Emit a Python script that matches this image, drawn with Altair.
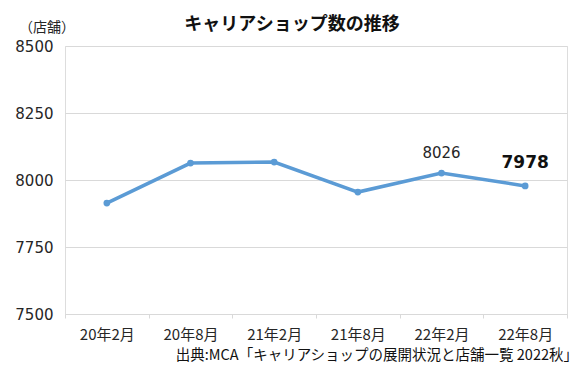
import altair as alt
import pandas as pd

months = ["20年2月", "20年8月", "21年2月", "21年8月", "22年2月", "22年8月"]
shops = [7914, 8063, 8067, 7955, 8026, 7978]
label_months = ["22年2月", "22年8月"]
label_values = [8026, 7978]
label_bold = ["normal", "bold"]
y_ticks = [7500, 7750, 8000, 8250, 8500]

title_text = "キャリアショップ数の推移"
unit_text = "（店舗）"
source_text = "出典:MCA「キャリアショップの展開状況と店舗一覧 2022秋」"

df = pd.DataFrame({"month": months, "shops": shops})
lab = pd.DataFrame({"month": label_months, "shops": label_values, "w": label_bold})

JP = "Noto Sans CJK JP"
NUM = "DejaVu Sans"
BLUE = "#5B9BD5"

x = alt.X("month:N", sort=months, title=None,
          scale=alt.Scale(type="band", paddingInner=0, paddingOuter=0),
          axis=alt.Axis(labelAngle=0, labelFont=JP, labelFontSize=15, labelColor="#262626",
                        labelPadding=9, tickBand="extent", tickSize=4, tickColor="#D9D9D9",
                        domainColor="#D9D9D9", grid=False))
y = alt.Y("shops:Q", title=None,
          scale=alt.Scale(domain=[7500, 8500], nice=False, zero=False),
          axis=alt.Axis(values=y_ticks, format="d", labelFont=NUM, labelFontSize=15, labelColor="#262626",
                        labelPadding=12, ticks=False, domain=False, gridColor="#D9D9D9"))

base = alt.Chart(df)
line = base.mark_line(color=BLUE, strokeWidth=3.5).encode(x=x, y=y)
pts = base.mark_point(color=BLUE, filled=True, opacity=1, size=45).encode(x=x, y=y)

lab1 = alt.Chart(lab[lab.w == "normal"]).mark_text(font=NUM, fontSize=15, dy=-20, color="#262626").encode(
    x=alt.X("month:N", sort=months), y="shops:Q", text="shops:Q")
lab2 = alt.Chart(lab[lab.w == "bold"]).mark_text(font=NUM, fontSize=17, fontWeight="bold", dy=-23, color="#111111").encode(
    x=alt.X("month:N", sort=months), y="shops:Q", text="shops:Q")

title = alt.Chart(pd.DataFrame({"t": [title_text]})).mark_text(
    font=JP, fontSize=18, fontWeight="bold", color="#111111").encode(
    x=alt.value(227), y=alt.value(-21), text="t:N")
unit = alt.Chart(pd.DataFrame({"t": [unit_text]})).mark_text(
    font=JP, fontSize=14, color="#262626").encode(
    x=alt.value(-18), y=alt.value(-18), text="t:N")
src = alt.Chart(pd.DataFrame({"t": [source_text]})).mark_text(
    font=JP, fontSize=14.5, align="right", color="#111111").encode(
    x=alt.value(513), y=alt.value(310), text="t:N")

chart = alt.layer(line, pts, lab1, lab2, title, unit, src).properties(
    width=502, height=268,
    autosize=alt.AutoSizeParams(type="none"),
    padding={"left": 57, "top": 38, "right": 11, "bottom": 50},
).configure_view(stroke=None).configure(background="white")

chart.save("out.html", embed_options={"renderer": "svg", "actions": False})
